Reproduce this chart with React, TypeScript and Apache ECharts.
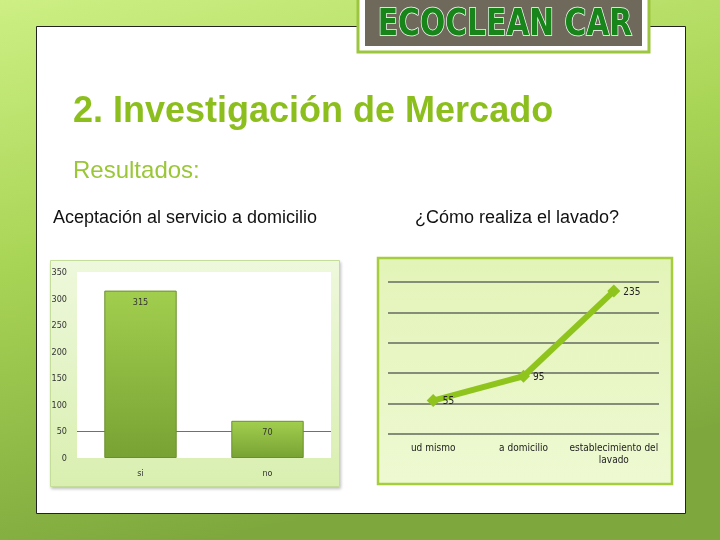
import React, { useEffect, useRef } from "react";
import * as echarts from "echarts";

const barCategories = ["si", "no"];
const barValues = [315, 70];
const barTicks = { min: 0, max: 350, interval: 50 };

const lineCategories = ["ud mismo", "a domicilio", "establecimiento del\nlavado"];
const lineValues = [55, 95, 235];
const lineTicks = { min: 0, max: 250, interval: 50 };

const slideTitle = "2. Investigación de Mercado";
const sectionTitle = "Resultados:";
const barChartTitle = "Aceptación al servicio a domicilio";
const lineChartTitle = "¿Cómo realiza el lavado?";
const logoText = "ECOCLEAN CAR";

const narrow = "'Liberation Sans Narrow', 'DejaVu Sans Condensed', 'Liberation Sans', sans-serif";

export default function App() {
  const ref = useRef<HTMLDivElement>(null);
  useEffect(() => {
    if (!ref.current) return;
    const chart = echarts.init(ref.current, null, { renderer: "svg" });
    const option: any = {
      animation: false,
      graphic: [
        {
          type: "rect",
          z: -20,
          shape: { x: 0, y: 0, width: 720, height: 540 },
          style: {
            fill: new echarts.graphic.LinearGradient(0, 0, 0.3, 1, [
              { offset: 0, color: "#cdef84" },
              { offset: 0.45, color: "#a9d556" },
              { offset: 1, color: "#7ea83d" },
            ]),
          },
        },
        {
          type: "rect",
          z: -19,
          shape: { x: 36.5, y: 26.5, width: 649, height: 487 },
          style: { fill: "#ffffff", stroke: "#222222", lineWidth: 1 },
        },
        // logo
        {
          type: "rect",
          z: -18,
          shape: { x: 358, y: -6, width: 291, height: 58 },
          style: { fill: "#ffffff", stroke: "#9cc640", lineWidth: 3 },
        },
        {
          type: "rect",
          z: -17,
          shape: { x: 365, y: -4, width: 277, height: 50 },
          style: { fill: "#6f695c" },
        },
        {
          type: "text",
          z: -16,
          x: 505,
          y: 22,
          scaleX: 0.87,
          style: {
            text: logoText,
            fontFamily: "'DejaVu Sans Condensed', 'DejaVu Sans', sans-serif",
            fontWeight: "bold",
            fontSize: 38,
            fill: "#17851a",
            stroke: "#ffffff",
            lineWidth: 1.5,
            align: "center",
            verticalAlign: "middle",
          },
        },
        // texts
        {
          type: "text",
          z: -15,
          x: 73,
          y: 109,
          style: {
            text: slideTitle,
            fontFamily: "'Liberation Sans', Arial, sans-serif",
            fontWeight: "bold",
            fontSize: 36,
            fill: "#8cbf1e",
            verticalAlign: "middle",
          },
        },
        {
          type: "text",
          z: -15,
          x: 73,
          y: 169,
          style: {
            text: sectionTitle,
            fontFamily: "'Liberation Sans', Arial, sans-serif",
            fontSize: 24,
            fill: "#9ac638",
            verticalAlign: "middle",
          },
        },
        {
          type: "text",
          z: -15,
          x: 53,
          y: 217,
          style: {
            text: barChartTitle,
            fontFamily: "'Liberation Sans', Arial, sans-serif",
            fontSize: 18,
            fill: "#111111",
            verticalAlign: "middle",
          },
        },
        {
          type: "text",
          z: -15,
          x: 415,
          y: 217,
          style: {
            text: lineChartTitle,
            fontFamily: "'Liberation Sans', Arial, sans-serif",
            fontSize: 18,
            fill: "#111111",
            verticalAlign: "middle",
          },
        },
        // bar chart box
        {
          type: "rect",
          z: -14,
          shape: { x: 50.5, y: 260.5, width: 289, height: 226 },
          style: {
            fill: new echarts.graphic.LinearGradient(0, 0, 0, 1, [
              { offset: 0, color: "#eef8dc" },
              { offset: 1, color: "#d9efb0" },
            ]),
            stroke: "#c4dd98",
            lineWidth: 1,
            shadowColor: "rgba(0,0,0,0.25)",
            shadowBlur: 3,
            shadowOffsetX: 1,
            shadowOffsetY: 2,
          },
        },
        // line chart box
        {
          type: "rect",
          z: -14,
          shape: { x: 378, y: 258, width: 294, height: 226 },
          style: {
            fill: new echarts.graphic.LinearGradient(0, 0, 0, 1, [
              { offset: 0, color: "#e3f4b8" },
              { offset: 1, color: "#eef9d2" },
            ]),
            stroke: "#a5cd3c",
            lineWidth: 2.5,
          },
        },
      ],
      grid: [
        {
          left: 77,
          right: 720 - 331,
          top: 272,
          bottom: 540 - 458,
          show: true,
          backgroundColor: "#ffffff",
          borderWidth: 0,
        },
        {
          left: 388,
          right: 720 - 659,
          top: 282,
          bottom: 540 - 434,
        },
      ],
      xAxis: [
        {
          type: "category",
          gridIndex: 0,
          data: barCategories,
          axisLine: { show: false },
          axisTick: { show: false },
          axisLabel: { interval: 0, fontFamily: narrow, fontSize: 9, color: "#333", margin: 10 },
        },
        {
          type: "category",
          gridIndex: 1,
          data: lineCategories,
          axisLine: { show: false },
          axisTick: { show: false },
          axisLabel: { interval: 0, fontFamily: narrow, fontSize: 10, color: "#222", margin: 7, lineHeight: 12 },
        },
      ],
      yAxis: [
        {
          type: "value",
          gridIndex: 0,
          min: barTicks.min,
          max: barTicks.max,
          interval: barTicks.interval,
          axisLine: { show: false },
          axisTick: { show: false },
          axisLabel: { fontFamily: narrow, fontSize: 9, color: "#333", margin: 10 },
          splitLine: {
            show: true,
            lineStyle: {
              color: ["transparent", "#707070", "transparent", "transparent", "transparent", "transparent", "transparent", "transparent"],
              width: 1,
            },
          },
        },
        {
          type: "value",
          gridIndex: 1,
          min: lineTicks.min,
          max: lineTicks.max,
          interval: lineTicks.interval,
          axisLine: { show: false },
          axisTick: { show: false },
          axisLabel: { show: false },
          splitLine: { show: true, lineStyle: { color: "#858c78", width: 2 } },
        },
      ],
      series: [
        {
          type: "bar",
          xAxisIndex: 0,
          yAxisIndex: 0,
          data: barValues,
          barWidth: "57%",
          itemStyle: {
            color: new echarts.graphic.LinearGradient(0, 0, 0, 1, [
              { offset: 0, color: "#a2ce4e" },
              { offset: 1, color: "#78a334" },
            ]),
            borderColor: "#6a8f2c",
            borderWidth: 1,
          },
          label: {
            show: true,
            position: "insideTop",
            distance: 7,
            fontFamily: narrow,
            fontSize: 9,
            color: "#333",
          },
        },
        {
          type: "line",
          xAxisIndex: 1,
          yAxisIndex: 1,
          data: lineValues,
          symbol: "diamond",
          symbolSize: 13,
          lineStyle: { color: "#8fc41c", width: 6 },
          itemStyle: { color: "#8fc41c" },
          label: {
            show: true,
            position: "right",
            distance: 3,
            fontFamily: narrow,
            fontSize: 10,
            color: "#222",
          },
        },
      ],
    };
    chart.setOption(option);
    return () => chart.dispose();
  }, []);
  return (
    <div
      ref={ref}
      style={{ position: "fixed", left: 0, top: 0, width: 720, height: 540 }}
    />
  );
}
